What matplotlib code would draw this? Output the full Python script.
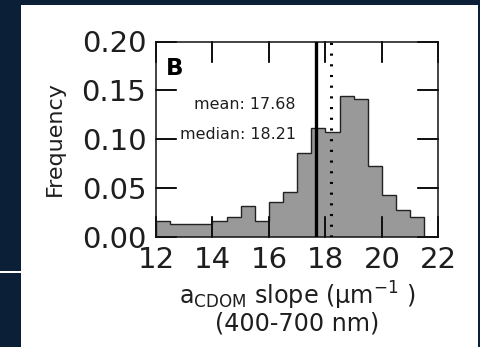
import numpy as np
import matplotlib
matplotlib.use('Agg')
import matplotlib.pyplot as plt
from matplotlib.patches import Rectangle

# histogram of aCDOM spectral slopes (normalised counts per 0.5 bin)
bin_edges = [12.0, 12.5, 13.0, 13.5, 14.0, 14.5, 15.0, 15.5, 16.0, 16.5,
             17.0, 17.5, 18.0, 18.5, 19.0, 19.5, 20.0, 20.5, 21.0, 21.5]
frequency = [0.0158, 0.0130, 0.0130, 0.0130, 0.0158, 0.0196, 0.0312, 0.0158, 0.0356, 0.0459,
             0.0853, 0.1110, 0.1075, 0.1445, 0.1408, 0.0723, 0.0422, 0.0271, 0.0202]
mean_slope = 17.68
median_slope = 18.21

x_ticks = [12, 14, 16, 18, 20, 22]
y_ticks = [0.00, 0.05, 0.10, 0.15, 0.20]

navy = '#0b1f37'
ink = '#1e1e1e'
frame = '#111111'

fig = plt.figure(figsize=(4.81, 3.47), dpi=100)
fig.patch.set_facecolor('white')

# dark slide frame around the panel
W, H = 481.0, 347.0
for (x0, y0, w, h) in [(0, 0, 21, 270.7), (0, 273.3, 21, 73.7), (0, 0, W, 4.7), (478, 0, 3, H)]:
    fig.patches.append(Rectangle((x0 / W, 1 - (y0 + h) / H), w / W, h / H,
                                 transform=fig.transFigure, facecolor=navy,
                                 edgecolor='none', zorder=0))

ax_w, ax_h = 438.5 - 156, 236.5 - 41.5
ax = fig.add_axes([156 / W, 1 - 236.5 / H, ax_w / W, ax_h / H])

centers = [(a + b) / 2 for a, b in zip(bin_edges[:-1], bin_edges[1:])]
ax.hist(centers, bins=bin_edges, weights=frequency, histtype='stepfilled',
        facecolor='#999999', edgecolor='#222222', linewidth=1.0)

ax.axvline(mean_slope, color='black', linewidth=2.4, zorder=3)
ax.axvline(median_slope, color='black', linewidth=2.2, linestyle=(0, (0.7, 2.8)), zorder=3)

ax.text(16.95, 0.1357, 'mean: %.2f' % mean_slope, ha='right', va='center',
        fontsize=11.4, color=ink)
ax.text(16.95, 0.1048, 'median: %.2f' % median_slope, ha='right', va='center',
        fontsize=11.4, color=ink)
ax.text(12.36, 0.184, 'B', ha='left', va='top', fontsize=16.5,
        fontweight='bold', color='black')

# long inward tick segments on all four sides (20 px)
tx, ty = 20.0 / ax_h, 20.0 / ax_w
xt = ax.get_xaxis_transform()
yt = ax.get_yaxis_transform()
for x in x_ticks:
    ax.plot([x, x], [0, tx], color=frame, linewidth=1.3, transform=xt, zorder=4, clip_on=False)
    ax.plot([x, x], [1 - tx, 1], color=frame, linewidth=1.3, transform=xt, zorder=4, clip_on=False)
for y in y_ticks:
    ax.plot([0, ty], [y, y], color=frame, linewidth=1.3, transform=yt, zorder=4, clip_on=False)
    ax.plot([1 - ty, 1], [y, y], color=frame, linewidth=1.3, transform=yt, zorder=4, clip_on=False)

ax.set_xlim(12, 22)
ax.set_ylim(0, 0.20)
ax.set_xticks(x_ticks)
ax.set_yticks(y_ticks)
ax.set_yticklabels(['%.2f' % v for v in y_ticks])

ax.tick_params(axis='both', which='major', direction='in', length=14.5, width=1.3,
               color=frame, top=True, right=True, labelsize=21,
               labelcolor=ink, pad=7)
for s in ax.spines.values():
    s.set_linewidth(1.2)
    s.set_color('#222222')

ax.set_ylabel('Frequency', fontsize=16, color=ink, labelpad=12)
ax.set_xlabel('a$_{\\mathregular{CDOM}}$ slope (µm$^{-1}$ )\n(400-700 nm)',
              fontsize=17.2, color=ink, labelpad=4, linespacing=1.0)

fig.savefig('out.png', dpi=100, facecolor=fig.get_facecolor())
